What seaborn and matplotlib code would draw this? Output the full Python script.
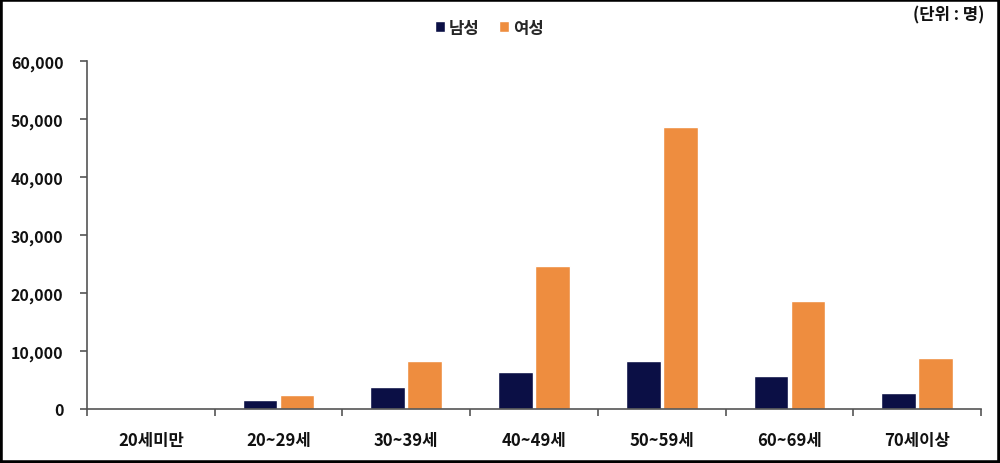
import matplotlib
matplotlib.use("Agg")
import matplotlib.pyplot as plt
import seaborn as sns
import pandas as pd
from matplotlib.patches import Rectangle
from matplotlib.ticker import FuncFormatter, MultipleLocator

categories = ["20세미만", "20~29세", "30~39세", "40~49세", "50~59세", "60~69세", "70세이상"]
male = [0, 1550, 3740, 6330, 8330, 5630, 2760]
female = [0, 2470, 8330, 24650, 48620, 18670, 8740]
series_names = ["남성", "여성"]

sns.set_theme(style="white")
plt.rcParams['font.family'] = ['Noto Sans CJK KR', 'DejaVu Sans']

df = pd.DataFrame({
    "age": categories * 2,
    "value": male + female,
    "sex": [series_names[0]] * len(categories) + [series_names[1]] * len(categories),
})

fig = plt.figure(figsize=(10, 4.64), dpi=100)
ax = fig.add_axes([0.087, (464 - 410) / 464, 0.894, (410 - 62) / 464])

palette = {"남성": "#0B0F45", "여성": "#EE8D3F"}
sns.barplot(data=df, x="age", y="value", hue="sex", palette=palette,
            order=categories, hue_order=series_names, width=0.58, gap=0.06,
            saturation=1, ax=ax, legend=True, errorbar=None)

ax.set_xlim(-0.5, 6.5)
ax.set_ylim(0, 60000)
ax.yaxis.set_major_locator(MultipleLocator(10000))
ax.yaxis.set_major_formatter(FuncFormatter(lambda v, p: f"{int(v):,}"))
ax.set_xlabel("")
ax.set_ylabel("")

for s in ["top", "right"]:
    ax.spines[s].set_visible(False)
for s in ["left", "bottom"]:
    ax.spines[s].set_color("#555555")
    ax.spines[s].set_linewidth(1.2)

ax.set_xticks([i + 0.5 for i in range(-1, 7)], minor=True)
ax.tick_params(axis="x", which="major", length=0, pad=16, labelsize=12)
ax.tick_params(axis="x", which="minor", direction="out", length=5, color="#555555", width=1.2, bottom=True)
ax.tick_params(axis="y", which="major", direction="out", length=5, color="#555555", width=1.2, left=True, labelsize=11.5, pad=12)
for lbl in ax.get_xticklabels() + ax.get_yticklabels():
    lbl.set_fontweight("bold")
    lbl.set_color("#111111")

leg = ax.legend(loc="upper center", bbox_to_anchor=(0.45, 1.165), ncol=2, frameon=False,
                handlelength=0.6, handleheight=0.6, handletextpad=0.2, columnspacing=1.2,
                prop={"size": 12, "weight": "bold"})

fig.text(0.984, 0.966, "(단위 : 명)", ha="right", va="center", fontsize=12, fontweight="bold", color="#111111")

fig.patches.append(Rectangle((0, 0), 1, 1, transform=fig.transFigure, fill=False,
                             edgecolor="black", linewidth=4, zorder=10))

fig.savefig("out.png", dpi=100)
